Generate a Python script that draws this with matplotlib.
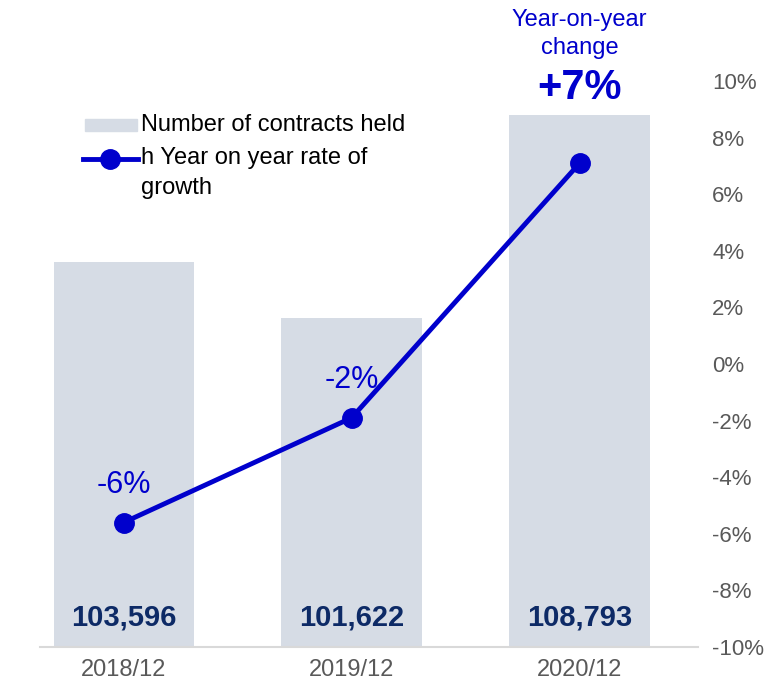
import numpy as np
import matplotlib
matplotlib.use('Agg')
import matplotlib.pyplot as plt
from matplotlib.transforms import blended_transform_factory
from matplotlib.lines import Line2D
from matplotlib.patches import Rectangle

plt.rcParams['font.family'] = ['Liberation Sans', 'DejaVu Sans']

# contratti in essere e tasso di crescita annuo
periods = ['2018/12', '2019/12', '2020/12']
contracts = [103596, 101622, 108793]
growth = [-5.6, -1.9, 7.1]

bar_col = '#d6dce5'
line_col = '#0000cc'
grey = '#595959'
navy = '#0d2a66'

fig = plt.figure(figsize=(7.68, 6.85), dpi=100)
ax = fig.add_axes([0.052, 0.0555, 0.857, 0.826])
x = np.arange(len(periods))

ax.bar(x, contracts, width=0.615, color=bar_col, zorder=1)
ax.set_ylim(90000, 110000)
ax.set_xlim(-0.367, 2.52)
ax.set_yticks([])
for s in ['top', 'right', 'left']:
    ax.spines[s].set_visible(False)
ax.spines['bottom'].set_color('#d9d9d9')
ax.spines['bottom'].set_linewidth(1.5)
ax.set_xticks(x)
ax.set_xticklabels(periods, fontsize=17, color=grey)
ax.tick_params(axis='x', length=0, pad=9)

# valori dentro le barre
for xi, v in zip(x, contracts):
    ax.text(xi, 91050, f'{v:,}', ha='center', va='center', fontsize=21,
            fontweight='bold', color=navy)

ax2 = ax.twinx()
ax2.plot(x, growth, color=line_col, lw=3.5, marker='o', markersize=14, zorder=3)
ax2.set_ylim(-10, 10)
ax2.set_yticks(np.arange(-10, 11, 2))
ax2.set_yticklabels([f'{t}%' for t in range(-10, 11, 2)], fontsize=16, color=grey)
ax2.tick_params(axis='y', length=0, pad=10)
for lab in ax2.get_yticklabels():
    lab.set_horizontalalignment('left')
for s in ax2.spines.values():
    s.set_visible(False)

for xi, g in zip(x[:2], growth[:2]):
    ax2.annotate(f'{g:.0f}%', (xi, g), xytext=(0, 27), textcoords='offset points',
                 ha='center', va='center', fontsize=22, color=line_col)

# riquadro variazione annua sopra l'ultima barra
tr = blended_transform_factory(ax.transData, fig.transFigure)
ax.text(x[2], 1 - 34 / 685, 'Year-on-year\nchange', transform=tr, ha='center',
        va='center', fontsize=17, color=line_col, linespacing=1.3)
ax.text(x[2], 1 - 88 / 685, f'{growth[2]:+.0f}%', transform=tr, ha='center',
        va='center', fontsize=30, fontweight='bold', color=line_col)

# legenda
fig.patches.append(Rectangle((85 / 768, 1 - 131 / 685), 52 / 768, 12 / 685,
                             transform=fig.transFigure, color=bar_col))
fig.text(141 / 768, 1 - 125 / 685, 'Number of contracts held', fontsize=17,
         va='center', color='black')
fig.lines.append(Line2D([83 / 768, 138 / 768], [1 - 159 / 685] * 2,
                        transform=fig.transFigure, color=line_col, lw=3.5))
fig.lines.append(Line2D([110 / 768], [1 - 159 / 685], transform=fig.transFigure,
                        color=line_col, marker='o', markersize=14, lw=0))
fig.text(141 / 768, 1 - 158 / 685, 'h Year on year rate of', fontsize=17,
         va='center', color='black')
fig.text(141 / 768, 1 - 188 / 685, 'growth', fontsize=17, va='center', color='black')

fig.savefig('out.png', dpi=100)
